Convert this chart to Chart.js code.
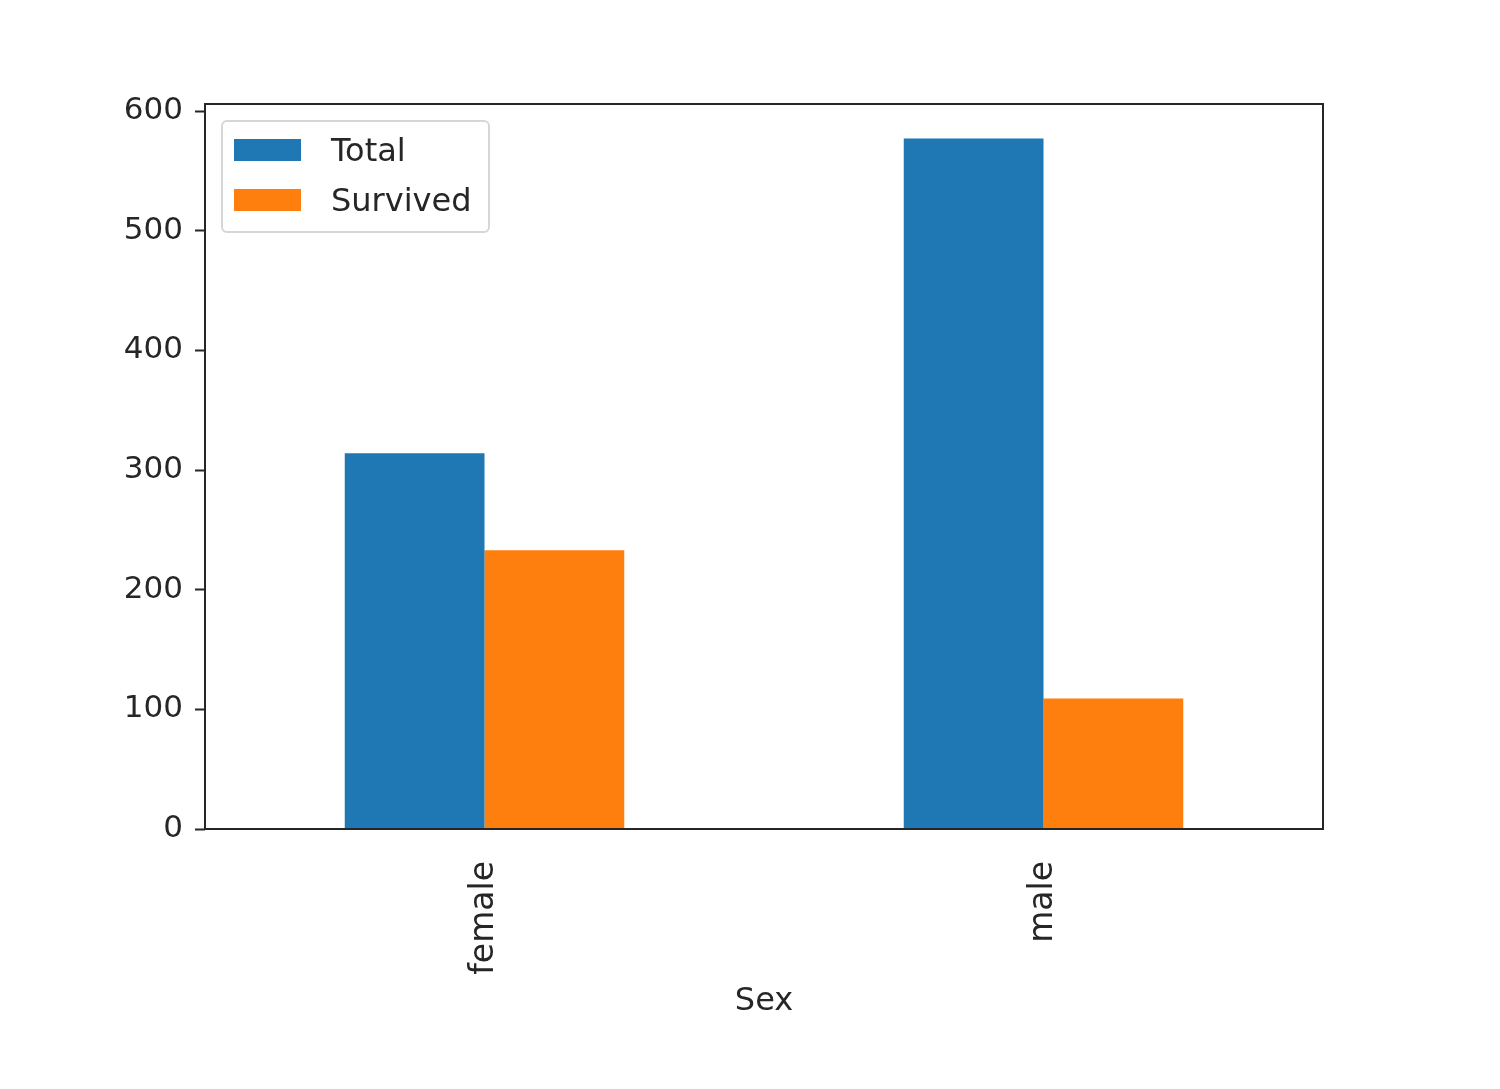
<!DOCTYPE html>
<html>
<head>
<meta charset="utf-8">
<script src="https://cdn.jsdelivr.net/npm/chart.js@4.4.1/dist/chart.umd.min.js"></script>
<style>
  html, body { margin: 0; padding: 0; background: #fff; }
  #wrap { width: 1500px; height: 1089px; }
</style>
</head>
<body>
<div id="wrap"><canvas id="c" width="1500" height="1089"></canvas></div>
<script>
// data
const categories = ['female', 'male'];
const totalValues = [314, 577];
const survivedValues = [233, 109];
const yTicks = [0, 100, 200, 300, 400, 500, 600];

const FONT = 'DejaVu Sans';
const INK = '#262626';

// draws the frame round the plot and the boxed legend in the upper left
const framePlugin = {
  id: 'frame',
  afterDatasetsDraw(chart) {
    const { ctx, chartArea: a } = chart;
    ctx.save();
    ctx.strokeStyle = INK;
    ctx.lineWidth = 2;
    ctx.strokeRect(a.left, a.top, a.right - a.left, a.bottom - a.top);

    // legend
    const x = a.left + 17, y = a.top + 17, w = 267, h = 111;
    ctx.beginPath();
    ctx.roundRect(x, y, w, h, 5);
    ctx.fillStyle = 'rgba(255,255,255,0.8)';
    ctx.fill();
    ctx.strokeStyle = '#d6d6d6';
    ctx.lineWidth = 2;
    ctx.stroke();

    ctx.font = '32px "' + FONT + '"';
    ctx.textBaseline = 'middle';
    chart.data.datasets.forEach((ds, i) => {
      const cy = y + 29 + i * 50;
      ctx.fillStyle = ds.backgroundColor;
      ctx.fillRect(x + 12, cy - 11, 67, 22);
      ctx.fillStyle = INK;
      ctx.fillText(ds.label, x + 109, cy + 3);
    });
    ctx.restore();
  }
};

const data = {
  labels: categories,
  datasets: [
    { label: 'Total', data: totalValues, backgroundColor: '#1f77b4' },
    { label: 'Survived', data: survivedValues, backgroundColor: '#ff7f0e' },
  ],
};

const config = {
  type: 'bar',
  data,
  options: {
    responsive: false,
    animation: false,
    layout: { padding: { top: 104, right: 177, left: 0, bottom: 68 } },
    datasets: { bar: { categoryPercentage: 0.5, barPercentage: 1.0 } },
    plugins: { legend: { display: false }, tooltip: { enabled: false } },
    scales: {
      x: {
        grid: { display: false, drawOnChartArea: false, tickLength: 14, tickWidth: 2, tickColor: INK },
        border: { display: false },
        ticks: {
          color: INK, font: { family: FONT, size: 33 },
          minRotation: 90, maxRotation: 90, padding: 18,
        },
        title: {
          display: true, text: 'Sex', color: INK,
          font: { family: FONT, size: 32 }, padding: { top: 0, bottom: 0 },
        },
        afterFit(scale) { scale.height = 192; },
      },
      y: {
        min: 0,
        max: 605.85,
        grid: { display: true, drawOnChartArea: false, tickLength: 10, tickWidth: 2, tickColor: INK },
        border: { display: false },
        ticks: { color: INK, font: { family: FONT, size: 31 }, padding: 12, stepSize: 100 },
        afterBuildTicks(scale) { scale.ticks = yTicks.map(v => ({ value: v })); },
        afterFit(scale) { scale.width = 205; },
      },
    },
  },
  plugins: [framePlugin],
};

new Chart(document.getElementById('c'), config);
</script>
</body>
</html>
